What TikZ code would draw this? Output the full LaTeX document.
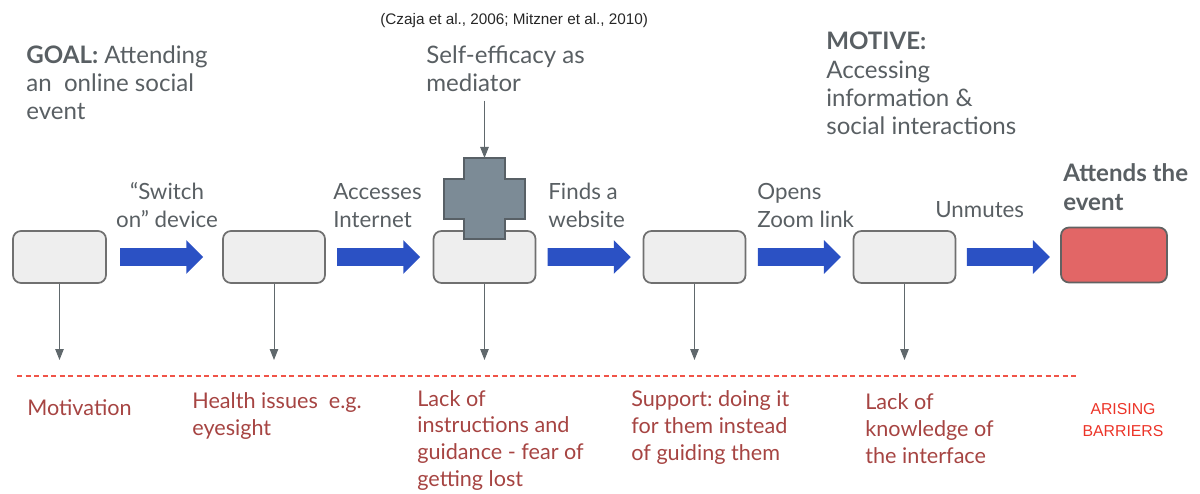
\documentclass[tikz,border=0pt]{standalone}
\usepackage{fontspec}
\setmainfont{Lato}
\newfontfamily\arialfont{Liberation Sans}
\usetikzlibrary{positioning}
\usetikzlibrary{shapes.arrows}
\usetikzlibrary{arrows.meta}
\frenchspacing

\definecolor{textgray}{RGB}{89,95,99}
\definecolor{barrierred}{RGB}{166,68,66}
\definecolor{arisingred}{RGB}{236,52,40}
\definecolor{dashred}{RGB}{240,84,72}
\definecolor{arrowblue}{RGB}{43,81,196}
\definecolor{boxfill}{RGB}{238,238,238}
\definecolor{boxline}{RGB}{112,112,112}
\definecolor{eventred}{RGB}{226,102,102}
\definecolor{eventline}{RGB}{98,98,98}
\definecolor{crossfill}{RGB}{124,139,150}
\definecolor{crossline}{RGB}{88,96,102}
\definecolor{droparrow}{RGB}{96,104,108}

\begin{document}
\begin{tikzpicture}
    [
    x=0.2mm,y=-0.2mm,
    stage/.style={rectangle,rounded corners=1.6mm,draw=boxline,line width=0.35mm,fill=boxfill,minimum width=20.4mm,minimum height=10.4mm},
    move/.style={single arrow,fill=arrowblue,inner xsep=0pt,inner ysep=1.7mm,minimum height=16.6mm,single arrow head extend=1.6mm,shape border rotate=0},
    steptext/.style={inner sep=0pt,text=textgray,align=left,anchor=base west,font=\fontsize{12.7}{16.2}\selectfont},
    headtext/.style={inner sep=0pt,text=textgray,align=left,anchor=base west,font=\fontsize{13.7}{16.2}\selectfont},
    barrier/.style={inner sep=0pt,text=barrierred,align=left,anchor=base west,font=\fontsize{12.3}{15.1}\selectfont},
    drop/.style={draw=droparrow,line width=0.2mm,-{Triangle[width=1.7mm,length=2.2mm]}},
    ]
    \useasboundingbox (0,0) rectangle (1200,493);

    % stages of the task
    \node (b1) at (59.5,257) [stage,minimum width=18.6mm] {};
    \node (b2) at (274,257) [stage] {};
    \node (b3) at (484.5,257) [stage] {};
    \node (b4) at (694.5,257) [stage] {};
    \node (b5) at (904.5,257) [stage] {};
    \node (b6) at (1114,255) [stage,fill=eventred,draw=eventline,minimum width=21.2mm,minimum height=11mm] {};

    \node (m1) [move,right=2.6mm of b1] {};
    \node (m2) [move,right=2.2mm of b2] {};
    \node (m3) [move,right=2.2mm of b3] {};
    \node (m4) [move,right=2.2mm of b4] {};
    \node (m5) [move,right=2.0mm of b5] {};

    % self-efficacy cross on the third stage
    \draw [fill=crossfill,draw=crossline,line width=0.3mm]
      (464,158) -- (505,158) -- (505,179) -- (525,179) -- (525,219) -- (505,219)
      -- (505,239) -- (464,239) -- (464,219) -- (444,219) -- (444,179) -- (464,179) -- cycle;
    \coordinate (crosstop) at (484.5,158);

    % labels above (anchored on the last line)
    \node (cite) at (380,25) [anchor=base west,inner sep=0pt,font=\arialfont\fontsize{8.7}{10}\selectfont,text=black!85] {(Czaja et al., 2006; Mitzner et al., 2010)};
    \node (goal) at (26,120) [headtext] {\textbf{GOAL:} Attending\\an~ online social\\event};
    \node (med) at (426,92) [headtext] {Self-efficacy as\\mediator};
    \node (motive) at (826,135) [headtext] {\textbf{MOTIVE:}\\Accessing\\information \&\\social interactions};
    \node (attend) at (1063,210) [headtext,font=\bfseries\fontsize{13.7}{16.2}\selectfont] {Attends the\\event};

    \node (s1) at (167,228) [steptext,align=center,anchor=base] {“Switch\\on” device};
    \node (s2) at (333,228) [steptext] {Accesses\\Internet};
    \node (s3) at (548,228) [steptext] {Finds a\\website};
    \node (s4) at (757,228) [steptext] {Opens\\Zoom link};
    \node (s5) at (935,217) [steptext] {Unmutes};

    \draw [drop,shorten <=1.6mm] (crosstop |- med.south) to (crosstop);

    % barriers
    \coordinate (barline) at (0,360);
    \coordinate (t1) at (b1 |- barline);
    \coordinate (t2) at (b2 |- barline);
    \coordinate (t3) at (b3 |- barline);
    \coordinate (t4) at (b4 |- barline);
    \coordinate (t5) at (b5 |- barline);
    \draw [drop] (b1) to (t1);
    \draw [drop] (b2) to (t2);
    \draw [drop] (b3) to (t3);
    \draw [drop] (b4) to (t4);
    \draw [drop] (b5) to (t5);

    \coordinate (dl) at (17,376);
    \coordinate (dr) at (1077,376);
    \draw [dashred,line width=0.25mm,dash pattern=on 1mm off 0.7mm] (dl) to (dr);

    \node (r1) at (27,415) [barrier] {Motivation};
    \node (r2) at (192,435) [barrier] {Health issues~ e.g.\\eyesight};
    \node (r3) at (417,486) [barrier] {Lack of\\instructions and\\guidance - fear of\\getting lost};
    \node (r4) at (631,460) [barrier] {Support: doing it\\for them instead\\of guiding them};
    \node (r5) at (865,463) [barrier] {Lack of\\knowledge of\\the interface};
    \node (r6) at (1123,436) [inner sep=0pt,anchor=base,align=center,text=arisingred,font=\arialfont\fontsize{9}{12.5}\selectfont] {ARISING\\BARRIERS};
  \end{tikzpicture}
\end{document}
